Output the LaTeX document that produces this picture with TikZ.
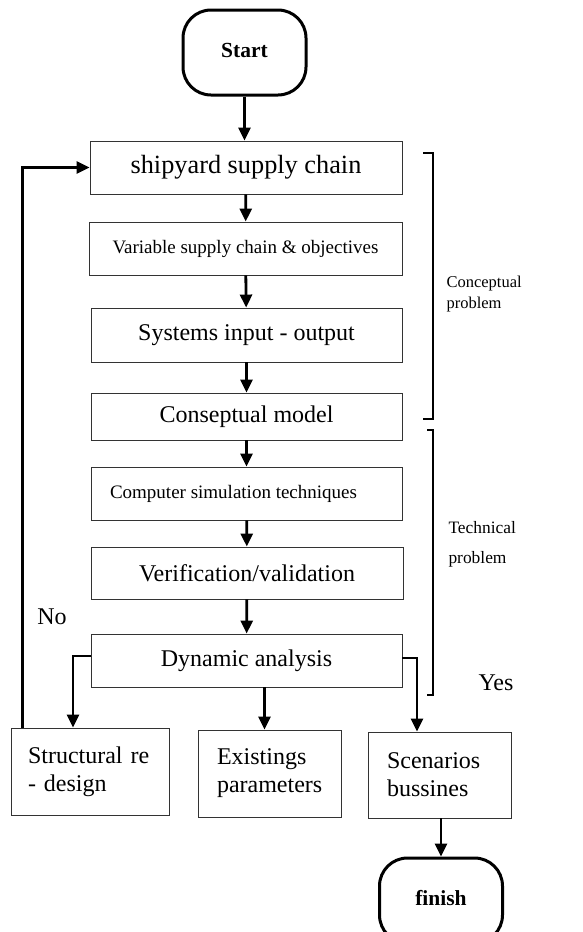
\documentclass[tikz,border=0pt]{standalone}
\usepackage{fontspec}
\setmainfont{Liberation Serif}
\usetikzlibrary{arrows.meta}

\begin{document}
\begin{tikzpicture}[x=1pt,y=-1pt,
    box/.style={draw=black!80, line width=0.9pt, inner sep=0pt},
    term/.style={draw, line width=3pt, rounded corners=28pt, minimum width=123, minimum height=85, font=\fontsize{21.5}{24}\selectfont\bfseries},
    big/.style={font=\fontsize{24}{28}\selectfont},
    small/.style={font=\fontsize{19}{22}\selectfont},
    side/.style={font=\fontsize{16.5}{21}\selectfont, align=left, anchor=west},
    arr/.style={line width=2.8pt, -{Triangle[width=12pt,length=13pt]}},
    brk/.style={line width=2.4pt}]
  \clip (0,0) rectangle (582,932);

  \node[term] (start) at (244.5,52.5) {\raisebox{5pt}{Start}};

  \node[box, font=\fontsize{26.3}{30}\selectfont, minimum width=312, minimum height=53] (sc) at (246,167.5) {shipyard supply chain};
  \node[box, small, minimum width=313, minimum height=53] (var) at (245.5,248.5) {Variable supply chain \& objectives};
  \node[box, big, minimum width=311, minimum height=54] (io) at (246.5,335) {Systems input - output};
  \node[box, big, minimum width=311, minimum height=47] (cm) at (246.5,416.5) {Conseptual model};
  \node[box, small, minimum width=311, minimum height=53] (sim) at (246.5,493.5) {\hspace*{-26pt}Computer simulation techniques};
  \node[box, big, minimum width=312, minimum height=52] (vv) at (247,573) {Verification/validation};
  \node[box, big, minimum width=311, minimum height=53] (dyn) at (246.5,660.5) {\raisebox{4pt}{Dynamic analysis}};

  \node[box, big, minimum width=158, minimum height=87, text width=124, align=left] (red) at (90,771.5) {Structural re\\- design};
  \node[box, big, minimum width=143, minimum height=87, text width=105, align=left] (par) at (269.5,773.5) {Existings\\parameters};
  \node[box, big, minimum width=143, minimum height=86, text width=105, align=left] (scn) at (439.5,775) {Scenarios\\bussines};

  \node[term] (fin) at (441,900.5) {\raisebox{5pt}{finish}};

  % main line
  \draw[arr] (start.south) -- (start.south |- sc.north);
  \draw[arr] (sc) -- (var);
  \draw[arr] (var) -- (io);
  \draw[arr] (io) -- (cm);
  \draw[arr] (cm) -- (sim);
  \draw[arr] (sim) -- (vv);
  \draw[arr] (vv) -- (dyn);

  % branches
  \draw[arr] ([yshift=4.5]dyn.west) -| ([xshift=-17]red.north);
  \draw[arr] ([xshift=-5]par.north |- dyn.south) -- ([xshift=-5]par.north);
  \draw[arr] ([yshift=2.5]dyn.east) -| ([xshift=-22.5]scn.north);
  \draw[arr] (scn.south -| fin.north) -- (fin.north);
  \draw[arr] ([xshift=12]red.north west) |- (sc.west);

  \node[big] (no) at (52,617) {No};
  \node[big] (yes) at (496,683) {Yes};

  % brackets
  \draw[brk] (423,153) -- (433,153) -- (433,419) -- (423,419);
  \draw[brk] (427,430) -- (433,430) -- (433,695) -- (427,695);
  \node[side] (cp) at (443,294) {Conceptual\\problem};
  \node[side, font=\fontsize{17.4}{30}\selectfont] (tp) at (445,544) {Technical\\problem};
\end{tikzpicture}
\end{document}
